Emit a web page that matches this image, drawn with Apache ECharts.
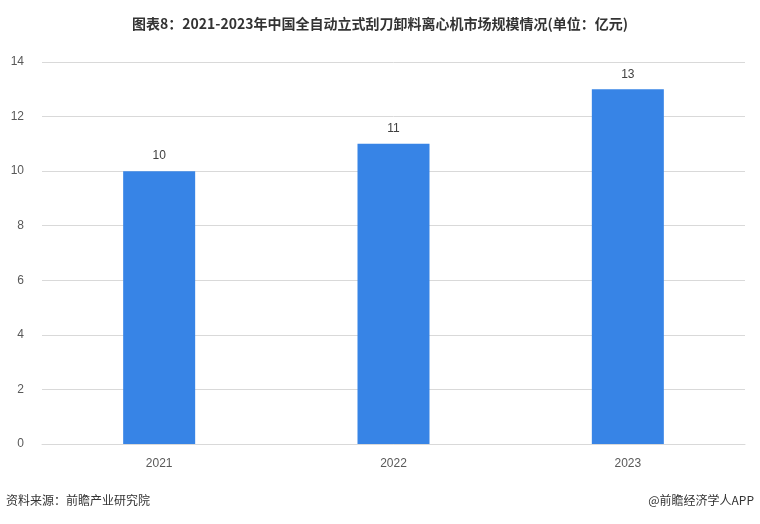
<!DOCTYPE html>
<html><head><meta charset="utf-8">
<script src="https://cdn.jsdelivr.net/npm/echarts@6/dist/echarts.min.js"></script>
<style>html,body{margin:0;padding:0;background:#fff}#c{width:760px;height:524px}</style>
</head><body><div id="c"></div>
<script>
const categories = ['2021','2022','2023'];
const values = [10, 11, 13];
const yTicks = [0,2,4,6,8,10,12,14];
const chart = echarts.init(document.getElementById('c'));
chart.setOption({
  animation:false,
  title:{text:'图表8：2021-2023年中国全自动立式刮刀卸料离心机市场规模情况(单位：亿元)',left:'center',top:12,
    textStyle:{fontSize:14,fontWeight:'bold',color:'#333',fontFamily:'Noto Sans CJK SC'}},
  graphic:[
    {type:'text',left:6,top:494,style:{text:'资料来源：前瞻产业研究院',fontSize:12,fill:'#333',fontFamily:'Noto Sans CJK SC'}},
    {type:'text',right:6,top:494,style:{text:'@前瞻经济学人APP',fontSize:12,fill:'#333',fontFamily:'Noto Sans CJK SC'}}
  ],
  grid:{left:42,right:15,top:62,bottom:80},
  xAxis:{type:'category',data:categories,axisTick:{show:false},
    axisLine:{lineStyle:{color:'#d9d9d9'}},
    axisLabel:{color:'#595959',fontSize:12,margin:14}},
  yAxis:{type:'value',min:0,max:14,interval:2,
    axisLabel:{color:'#595959',fontSize:12,margin:18},
    splitLine:{lineStyle:{color:'#d9d9d9'}}},
  series:[{type:'bar',data:values,barWidth:72,itemStyle:{color:'#3784e6'},
    label:{show:true,position:'top',color:'#404040',fontSize:12,distance:9}}]
});
</script></body></html>
